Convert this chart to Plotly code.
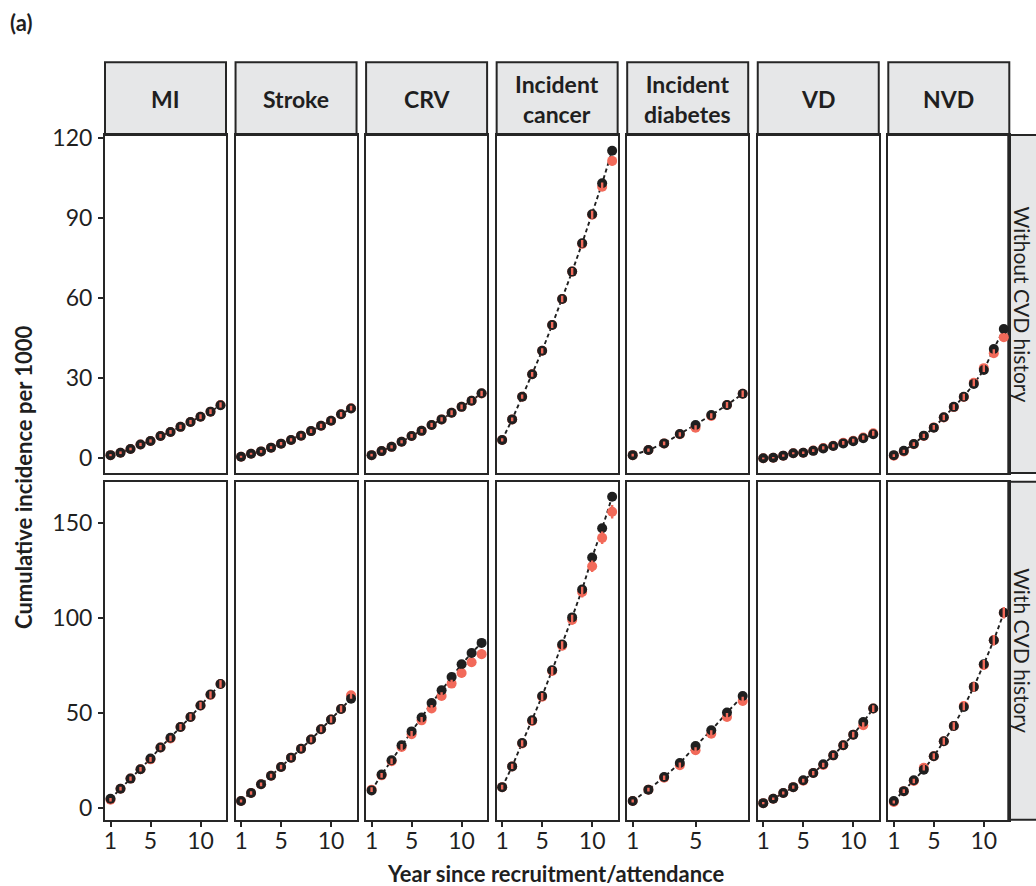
import plotly.graph_objects as go

# ---- data ---------------------------------------------------------------
years_12 = list(range(1, 13))
years_8 = list(range(1, 9))

outcome_labels = ["MI", "Stroke", "CRV", "Incident<br>cancer", "Incident<br>diabetes", "VD", "NVD"]
group_labels = ["Without CVD history", "With CVD history"]

# Without CVD history: observed (black), predicted (red) and predicted CI half-width
mi_wo_obs = [1.2, 2.1, 3.5, 5.2, 6.5, 8.4, 9.9, 11.8, 13.6, 15.6, 17.5, 19.9]
mi_wo_pred = [1.2, 2.1, 3.5, 5.2, 6.5, 8.4, 9.9, 11.8, 13.6, 15.6, 17.5, 20.0]
mi_wo_err = [0.4, 0.5, 0.5, 0.6, 0.6, 0.7, 0.7, 0.8, 0.8, 0.9, 0.9, 1.0]

stroke_wo_obs = [0.6, 1.7, 2.6, 4.0, 5.5, 6.9, 8.5, 10.2, 12.2, 14.1, 16.5, 18.7]
stroke_wo_pred = [0.6, 1.7, 2.6, 4.0, 5.5, 6.9, 8.5, 10.2, 12.2, 14.1, 16.5, 18.8]
stroke_wo_err = [0.4, 0.4, 0.5, 0.5, 0.6, 0.6, 0.7, 0.7, 0.8, 0.8, 0.9, 0.9]

crv_wo_obs = [1.2, 2.7, 4.3, 6.2, 8.4, 10.3, 12.5, 14.6, 17.1, 19.3, 21.6, 24.4]
crv_wo_pred = [1.2, 2.7, 4.3, 6.2, 8.4, 10.3, 12.5, 14.6, 17.1, 19.3, 21.6, 24.3]
crv_wo_err = [0.5, 0.5, 0.6, 0.6, 0.7, 0.7, 0.8, 0.8, 0.9, 0.9, 1.0, 1.0]

cancer_wo_obs = [6.9, 14.6, 23.1, 31.5, 40.3, 50.0, 59.7, 70.0, 80.6, 91.5, 103.1, 115.3]
cancer_wo_pred = [6.9, 14.6, 23.1, 31.5, 40.3, 50.0, 59.7, 70.0, 80.4, 91.3, 101.8, 111.5]
cancer_wo_err = [0.6, 0.7, 0.8, 0.9, 1.0, 1.1, 1.2, 1.3, 1.4, 1.5, 1.6, 1.7]

diabetes_wo_obs = [1.2, 3.1, 5.6, 9.1, 12.5, 16.2, 20.0, 24.2]
diabetes_wo_pred = [1.2, 3.1, 5.6, 9.0, 11.5, 15.9, 20.0, 24.2]
diabetes_wo_err = [0.5, 0.6, 0.7, 0.8, 0.9, 1.0, 1.1, 1.2]

vd_wo_obs = [0.0, 0.2, 1.0, 1.9, 2.1, 2.8, 3.7, 4.6, 5.6, 6.4, 7.5, 9.0]
vd_wo_pred = [0.0, 0.2, 1.0, 1.9, 2.1, 2.9, 3.9, 4.7, 5.8, 6.6, 7.8, 9.4]
vd_wo_err = [0.3, 0.3, 0.4, 0.4, 0.5, 0.5, 0.6, 0.6, 0.7, 0.7, 0.8, 0.9]

nvd_wo_obs = [1.2, 2.8, 5.4, 8.5, 11.5, 15.4, 19.3, 23.1, 27.9, 33.1, 41.0, 48.5]
nvd_wo_pred = [1.0, 2.6, 5.3, 8.4, 11.6, 15.3, 19.2, 23.0, 28.3, 33.8, 39.4, 45.4]
nvd_wo_err = [0.5, 0.6, 0.7, 0.8, 0.9, 1.0, 1.1, 1.2, 1.3, 1.4, 1.5, 1.6]

# With CVD history
mi_w_obs = [4.9, 10.2, 15.5, 20.4, 26.0, 31.8, 37.0, 42.6, 47.9, 53.9, 59.7, 65.2]
mi_w_pred = [4.4, 10.2, 15.5, 20.4, 25.6, 31.8, 36.6, 42.6, 47.9, 53.9, 59.5, 65.2]
mi_w_err = [0.9, 1.0, 1.1, 1.2, 1.3, 1.4, 1.5, 1.6, 1.7, 1.8, 1.9, 2.0]

stroke_w_obs = [3.7, 7.9, 12.5, 17.0, 21.6, 26.5, 31.2, 36.0, 41.4, 46.5, 52.1, 57.5]
stroke_w_pred = [3.7, 7.9, 12.5, 17.0, 21.6, 26.5, 31.2, 36.0, 41.4, 46.5, 52.1, 59.3]
stroke_w_err = [0.8, 0.9, 1.0, 1.1, 1.2, 1.3, 1.4, 1.5, 1.6, 1.7, 1.8, 1.9]

crv_w_obs = [9.3, 17.6, 25.1, 33.0, 40.3, 47.6, 55.2, 61.9, 68.9, 75.6, 81.5, 86.8]
crv_w_pred = [9.7, 17.2, 24.6, 32.1, 38.8, 46.1, 52.3, 58.9, 65.4, 71.0, 76.6, 80.9]
crv_w_err = [1.2, 1.3, 1.5, 1.6, 1.7, 1.8, 1.9, 2.0, 2.1, 2.2, 2.3, 2.5]

cancer_w_obs = [11.0, 21.9, 34.2, 46.1, 58.9, 72.4, 86.0, 100.2, 114.9, 131.7, 147.0, 163.6]
cancer_w_pred = [11.0, 21.9, 34.0, 45.8, 58.5, 72.0, 85.3, 99.0, 113.5, 127.1, 142.0, 155.7]
cancer_w_err = [1.2, 1.4, 1.6, 1.8, 2.0, 2.2, 2.4, 2.6, 2.8, 3.0, 3.3, 3.6]

diabetes_w_obs = [3.7, 9.7, 16.3, 23.7, 32.6, 40.9, 50.2, 58.9]
diabetes_w_pred = [3.7, 9.7, 15.9, 22.5, 30.4, 39.1, 47.9, 56.3]
diabetes_w_err = [0.8, 1.0, 1.2, 1.4, 1.6, 1.8, 2.0, 2.2]

vd_w_obs = [2.6, 4.9, 7.9, 11.0, 14.6, 18.4, 23.0, 27.7, 33.0, 38.6, 45.2, 52.3]
vd_w_pred = [2.6, 4.9, 7.9, 11.0, 14.4, 18.4, 22.6, 27.7, 33.0, 38.6, 43.5, 52.3]
vd_w_err = [0.6, 0.7, 0.8, 0.9, 1.0, 1.1, 1.2, 1.3, 1.4, 1.5, 1.6, 1.8]

nvd_w_obs = [3.7, 8.9, 14.6, 20.2, 27.2, 35.1, 43.1, 53.1, 63.7, 75.6, 88.2, 102.6]
nvd_w_pred = [3.2, 8.9, 14.2, 21.2, 27.2, 35.1, 43.1, 53.6, 63.7, 75.2, 88.2, 102.6]
nvd_w_err = [0.8, 1.0, 1.2, 1.4, 1.6, 1.8, 2.0, 2.2, 2.4, 2.6, 2.8, 3.0]

x_ticks_12 = [1, 5, 10]
x_ticks_8 = [1, 5]
y_ticks_top = [0, 30, 60, 90, 120]
y_ticks_bottom = [0, 50, 100, 150]

# ---- panel table built from the lists above -------------------------------
panels = [
    # (row, col, years, observed, predicted, ci half-width)
    (0, 0, years_12, mi_wo_obs, mi_wo_pred, mi_wo_err),
    (0, 1, years_12, stroke_wo_obs, stroke_wo_pred, stroke_wo_err),
    (0, 2, years_12, crv_wo_obs, crv_wo_pred, crv_wo_err),
    (0, 3, years_12, cancer_wo_obs, cancer_wo_pred, cancer_wo_err),
    (0, 4, years_8, diabetes_wo_obs, diabetes_wo_pred, diabetes_wo_err),
    (0, 5, years_12, vd_wo_obs, vd_wo_pred, vd_wo_err),
    (0, 6, years_12, nvd_wo_obs, nvd_wo_pred, nvd_wo_err),
    (1, 0, years_12, mi_w_obs, mi_w_pred, mi_w_err),
    (1, 1, years_12, stroke_w_obs, stroke_w_pred, stroke_w_err),
    (1, 2, years_12, crv_w_obs, crv_w_pred, crv_w_err),
    (1, 3, years_12, cancer_w_obs, cancer_w_pred, cancer_w_err),
    (1, 4, years_8, diabetes_w_obs, diabetes_w_pred, diabetes_w_err),
    (1, 5, years_12, vd_w_obs, vd_w_pred, vd_w_err),
    (1, 6, years_12, nvd_w_obs, nvd_w_pred, nvd_w_err),
]

# ---- geometry (pixels) ---------------------------------------------------
W, H = 1036, 886
FONT = "Lato"
INK = "#1f1f1f"
RED = "#F26A5A"
STRIP_FILL = "#E6E7E8"
BORDER = "#262626"

col_left0 = 105.0
col_step = 130.55
col_width = 121.0
row_tops = [135.0, 481.7]
row_height = 338.0
strip_top = 62.3
strip_right_x0 = 1008.3

y_ranges = [[-5.5, 121.2], [-6.1, 171.5]]
x_range_12 = [0.45, 12.55]
x_range_8 = [0.65, 8.35]


def px_x(p):
    return p / W


def px_y(p):
    return 1 - p / H


fig = go.Figure()
layout_axes = {}

for idx, (row, col, yrs, obs, pred, err) in enumerate(panels):
    n = idx + 1
    xa = "x" if n == 1 else f"x{n}"
    ya = "y" if n == 1 else f"y{n}"
    left = col_left0 + col * col_step
    top = row_tops[row]

    # dashed line through observed values
    fig.add_trace(go.Scatter(
        x=yrs, y=obs, mode="lines", xaxis=xa, yaxis=ya,
        line=dict(color=INK, width=1.9, dash="4px,3px"),
        hoverinfo="skip", showlegend=False))
    # predicted points
    fig.add_trace(go.Scatter(
        x=yrs, y=pred, mode="markers", xaxis=xa, yaxis=ya,
        marker=dict(color=RED, size=10, line=dict(width=0)),
        showlegend=False))
    # observed points
    fig.add_trace(go.Scatter(
        x=yrs, y=obs, mode="markers", xaxis=xa, yaxis=ya,
        marker=dict(color=INK, size=10, line=dict(width=0)),
        showlegend=False))
    # predicted confidence intervals, drawn on top
    fig.add_trace(go.Scatter(
        x=yrs, y=pred, mode="markers", xaxis=xa, yaxis=ya,
        marker=dict(color="rgba(0,0,0,0)", size=1),
        error_y=dict(type="data", array=err, visible=True,
                     color=RED, thickness=2.4, width=0),
        hoverinfo="skip", showlegend=False))

    is_8 = len(yrs) == 8
    xkey = "xaxis" if n == 1 else f"xaxis{n}"
    ykey = "yaxis" if n == 1 else f"yaxis{n}"
    layout_axes[xkey] = dict(
        domain=[px_x(left), px_x(left + col_width)],
        anchor=ya, automargin=False,
        range=x_range_8 if is_8 else x_range_12,
        tickvals=x_ticks_8 if is_8 else x_ticks_12,
        showticklabels=(row == 1),
        ticks="outside" if row == 1 else "",
        ticklen=5, tickwidth=1.5, tickcolor=BORDER,
        ticklabelstandoff=-5,
        showgrid=False, zeroline=False,
        showline=True, mirror=True, linecolor=BORDER, linewidth=2,
        tickfont=dict(family=FONT, size=23, color=INK),
    )
    layout_axes[ykey] = dict(
        domain=[px_y(top + row_height), px_y(top)],
        anchor=xa, automargin=False,
        range=y_ranges[row],
        tickvals=y_ticks_top if row == 0 else y_ticks_bottom,
        showticklabels=(col == 0),
        ticks="outside" if col == 0 else "",
        ticklen=5, tickwidth=1.5, tickcolor=BORDER,
        ticklabelstandoff=1,
        showgrid=False, zeroline=False,
        showline=True, mirror=True, linecolor=BORDER, linewidth=2,
        tickfont=dict(family=FONT, size=23, color=INK),
    )

shapes = []
annotations = []

# column strips
for col, label in enumerate(outcome_labels):
    left = col_left0 + col * col_step
    shapes.append(dict(
        type="rect", xref="paper", yref="paper", layer="below",
        x0=px_x(left), x1=px_x(left + col_width),
        y0=px_y(row_tops[0]), y1=px_y(strip_top),
        fillcolor=STRIP_FILL, line=dict(color=BORDER, width=2)))
    annotations.append(dict(
        xref="paper", yref="paper",
        x=px_x(left + col_width / 2), y=px_y((strip_top + row_tops[0]) / 2),
        text=f"<b>{label}</b>", showarrow=False,
        xanchor="center", yanchor="middle",
        font=dict(family=FONT, size=23, color=INK)))

# row strips on the right
for row, label in enumerate(group_labels):
    top = row_tops[row]
    shapes.append(dict(
        type="rect", xref="paper", yref="paper", layer="below",
        x0=px_x(strip_right_x0), x1=px_x(strip_right_x0 + 45),
        y0=px_y(top + row_height), y1=px_y(top),
        fillcolor=STRIP_FILL, line=dict(color=BORDER, width=2)))
    annotations.append(dict(
        xref="paper", yref="paper",
        x=px_x(1022.5), y=px_y(top + row_height / 2),
        text=label, showarrow=False, textangle=90,
        xanchor="center", yanchor="middle",
        font=dict(family=FONT, size=21, color=INK)))

# axis titles and panel tag
annotations.append(dict(
    xref="paper", yref="paper", x=px_x(556), y=px_y(873),
    text="<b>Year since recruitment/attendance</b>", showarrow=False,
    xanchor="center", yanchor="middle",
    font=dict(family=FONT, size=22, color=INK)))
annotations.append(dict(
    xref="paper", yref="paper", x=px_x(23), y=px_y(477),
    text="<b>Cumulative incidence per 1000</b>", showarrow=False,
    textangle=-90, xanchor="center", yanchor="middle",
    font=dict(family=FONT, size=22, color=INK)))
annotations.append(dict(
    xref="paper", yref="paper", x=px_x(8), y=px_y(23),
    text="<b>(a)</b>", showarrow=False,
    xanchor="left", yanchor="middle",
    font=dict(family=FONT, size=22, color=INK)))

fig.update_layout(
    width=W, height=H,
    margin=dict(l=0, r=0, t=0, b=0, pad=0),
    paper_bgcolor="white", plot_bgcolor="white",
    shapes=shapes, annotations=annotations,
    showlegend=False,
    **layout_axes,
)

fig.write_html("out.html")
